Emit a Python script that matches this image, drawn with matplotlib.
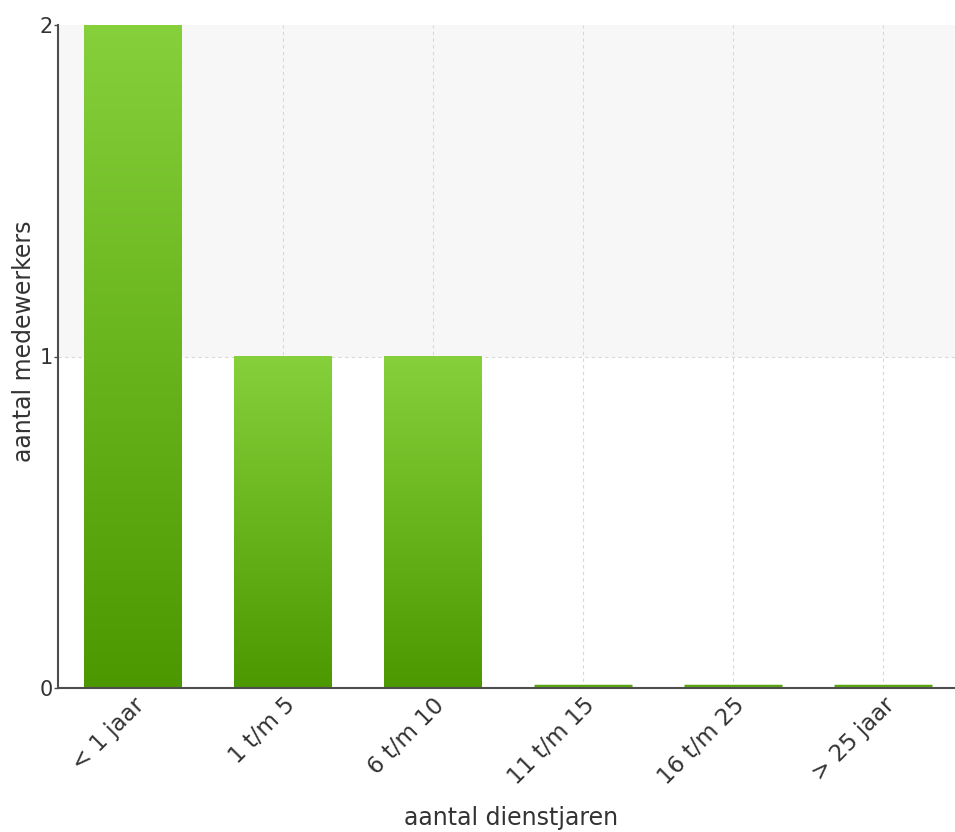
import matplotlib
matplotlib.use('Agg')
from matplotlib import pyplot as plt
from matplotlib.colors import LinearSegmentedColormap
import numpy as np

categories = ['< 1 jaar', '1 t/m 5', '6 t/m 10', '11 t/m 15', '16 t/m 25', '> 25 jaar']
counts = [2, 1, 1, 0, 0, 0]
y_ticks = [0, 1, 2]

top_green = '#86d13b'
bottom_green = '#4b9800'
green_map = LinearSegmentedColormap.from_list('bar_green', [bottom_green, top_green])

plt.rcParams['font.family'] = ['DejaVu Sans']

fig = plt.figure(figsize=(9.55, 8.32), dpi=100)
ax = fig.add_axes([58 / 955, 1 - 688 / 832, 897 / 955, (688 - 25) / 832])

x = np.arange(len(categories))
ax.set_xlim(-0.5, len(categories) - 0.52)
ax.set_ylim(0, 2)

# alternating band and dashed grid
ax.axhspan(1, 2, color='#f7f7f7', zorder=0)
for xi in x:
    ax.axvline(xi, color='#d8d8d8', linestyle=(0, (3, 3)), linewidth=0.8, zorder=1)
ax.axhline(1, color='#d8d8d8', linestyle=(0, (3, 3)), linewidth=0.8, zorder=1)

bars = ax.bar(x, counts, width=0.65, color='none', edgecolor='none', zorder=2)
grad = np.linspace(0, 1, 256).reshape(-1, 1)
for bar, value in zip(bars, counts):
    x0 = bar.get_x()
    w = bar.get_width()
    if value > 0:
        img = ax.imshow(grad, cmap=green_map, origin='lower', aspect='auto',
                        extent=[x0, x0 + w, 0, value], zorder=2)
        img.set_clip_path(bar)
    else:
        ax.plot([x0, x0 + w], [0.006, 0.006], color='#5aa512',
                linewidth=2.5, solid_capstyle='butt', zorder=3)

for side in ['top', 'right']:
    ax.spines[side].set_visible(False)
for side in ['left', 'bottom']:
    ax.spines[side].set_color('#4d4d4d')
    ax.spines[side].set_linewidth(1.5)
    ax.spines[side].set_zorder(4)

ax.set_yticks(y_ticks)
ax.set_yticklabels([str(t) for t in y_ticks], fontsize=15, color='#333333')
ax.tick_params(axis='y', length=3, width=1, color='#4d4d4d', pad=0.5)
ax.set_xticks(x)
ax.set_xticklabels(categories, rotation=45, ha='right', rotation_mode='anchor',
                   fontsize=16.5, color='#333333')
ax.tick_params(axis='x', length=0, pad=4)

ax.set_xlabel('aantal dienstjaren', fontsize=17, color='#333333')
ax.set_ylabel('aantal medewerkers', fontsize=17, color='#333333')
ax.xaxis.set_label_coords(0.505, -0.178)
ax.yaxis.set_label_coords(-0.025, 0.523)

fig.savefig('out.png', dpi=100)
